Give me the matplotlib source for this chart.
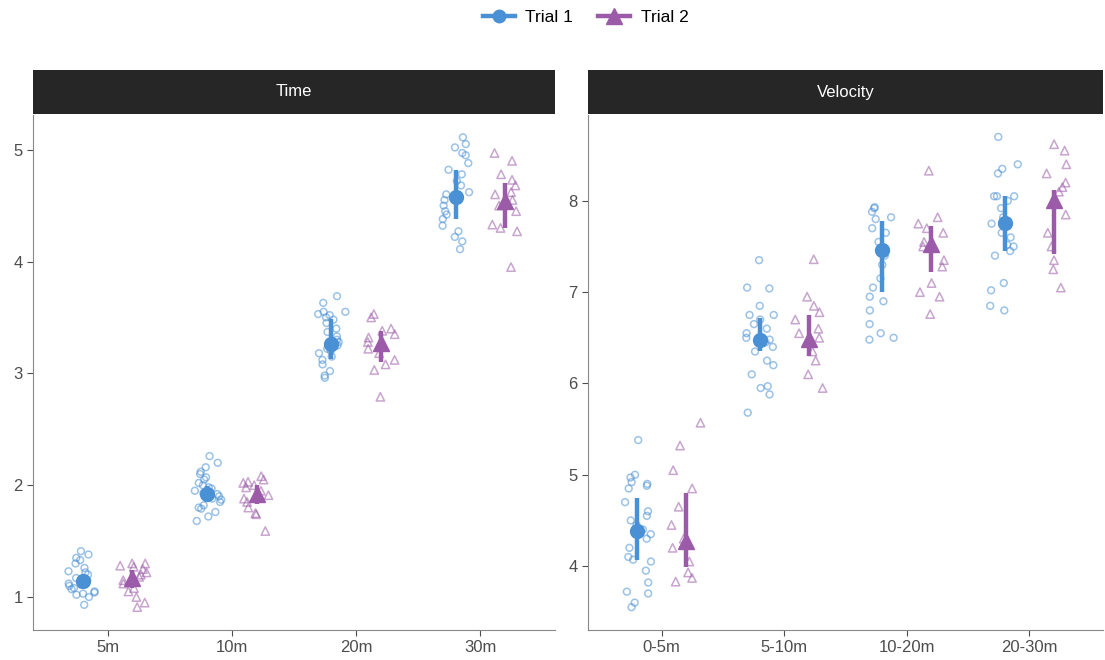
import numpy as np
import matplotlib
matplotlib.use("Agg")
from matplotlib import pyplot as plt
from matplotlib.lines import Line2D

plt.rcParams['font.family'] = ['Liberation Sans', 'DejaVu Sans']

# sprint split times (s) and velocities (m/s), two trials per athlete
time_labels = ['5m', '10m', '20m', '30m']
velocity_labels = ['0-5m', '5-10m', '10-20m', '20-30m']

time_trial1 = [
    [0.93, 1.00, 1.02, 1.03, 1.04, 1.05, 1.07, 1.08, 1.10, 1.11, 1.12, 1.14, 1.15,
     1.17, 1.20, 1.22, 1.23, 1.26, 1.30, 1.33, 1.35, 1.38, 1.41],
    [1.68, 1.72, 1.76, 1.79, 1.80, 1.82, 1.85, 1.87, 1.88, 1.90, 1.92, 1.93, 1.95,
     1.97, 1.98, 2.00, 2.02, 2.05, 2.07, 2.10, 2.12, 2.16, 2.20, 2.26],
    [2.96, 2.98, 3.02, 3.08, 3.12, 3.15, 3.18, 3.20, 3.22, 3.25, 3.28, 3.30, 3.33,
     3.37, 3.40, 3.45, 3.48, 3.50, 3.52, 3.53, 3.55, 3.55, 3.63, 3.69],
    [4.11, 4.18, 4.22, 4.27, 4.32, 4.38, 4.42, 4.45, 4.50, 4.55, 4.58, 4.60, 4.62,
     4.68, 4.72, 4.78, 4.82, 4.88, 4.95, 4.97, 5.02, 5.05, 5.11],
]
time_trial2 = [
    [0.91, 0.95, 1.00, 1.05, 1.08, 1.12, 1.15, 1.18, 1.20, 1.22, 1.25, 1.27, 1.28, 1.30, 1.30],
    [1.59, 1.74, 1.75, 1.80, 1.85, 1.88, 1.91, 1.95, 1.98, 2.00, 2.02, 2.03, 2.05, 2.08],
    [2.79, 3.03, 3.08, 3.12, 3.18, 3.22, 3.28, 3.32, 3.35, 3.38, 3.40, 3.50, 3.53],
    [3.95, 4.27, 4.30, 4.33, 4.45, 4.50, 4.55, 4.60, 4.62, 4.68, 4.73, 4.78, 4.90, 4.97],
]
velocity_trial1 = [
    [3.55, 3.60, 3.70, 3.72, 3.82, 3.95, 4.05, 4.07, 4.10, 4.20, 4.30, 4.35, 4.40,
     4.45, 4.50, 4.55, 4.60, 4.70, 4.85, 4.88, 4.90, 4.92, 4.97, 5.00, 5.38],
    [5.68, 5.88, 5.95, 5.97, 6.10, 6.20, 6.25, 6.35, 6.40, 6.45, 6.48, 6.50, 6.55,
     6.60, 6.65, 6.70, 6.75, 6.75, 6.85, 7.04, 7.05, 7.35],
    [6.48, 6.50, 6.55, 6.65, 6.80, 6.90, 6.95, 7.05, 7.15, 7.30, 7.40, 7.46, 7.55,
     7.65, 7.70, 7.80, 7.82, 7.88, 7.92, 7.93],
    [6.80, 6.85, 7.02, 7.10, 7.40, 7.45, 7.50, 7.52, 7.60, 7.65, 7.75, 7.82, 7.92,
     8.00, 8.05, 8.05, 8.05, 8.30, 8.35, 8.40, 8.70],
]
velocity_trial2 = [
    [3.83, 3.87, 3.93, 4.05, 4.20, 4.30, 4.45, 4.65, 4.85, 5.05, 5.32, 5.57],
    [5.95, 6.10, 6.25, 6.35, 6.45, 6.50, 6.55, 6.60, 6.70, 6.78, 6.85, 6.95, 7.36],
    [6.76, 6.95, 7.00, 7.10, 7.28, 7.35, 7.50, 7.55, 7.65, 7.70, 7.75, 7.82, 8.33],
    [7.05, 7.25, 7.35, 7.50, 7.65, 7.85, 8.10, 8.15, 8.20, 8.30, 8.40, 8.55, 8.62],
]

# summary: mean with lower / upper interval
time_mean1 = [1.14, 1.92, 3.26, 4.58]
time_lo1 = [1.08, 1.85, 3.13, 4.38]
time_hi1 = [1.20, 1.99, 3.49, 4.82]
time_mean2 = [1.17, 1.92, 3.27, 4.54]
time_lo2 = [1.08, 1.83, 3.10, 4.30]
time_hi2 = [1.24, 2.00, 3.38, 4.70]
vel_mean1 = [4.38, 6.48, 7.46, 7.76]
vel_lo1 = [4.07, 6.35, 7.00, 7.45]
vel_hi1 = [4.75, 6.72, 7.78, 8.05]
vel_mean2 = [4.28, 6.49, 7.53, 8.01]
vel_lo2 = [3.99, 6.30, 7.22, 7.42]
vel_hi2 = [4.80, 6.75, 7.72, 8.12]

blue = '#4a90d4'
purple = '#9c5ba8'
rng = np.random.RandomState(3)

fig = plt.figure(figsize=(11.05, 6.6), dpi=100)

panels = [
    ('Time', time_labels, time_trial1, time_trial2,
     (time_mean1, time_lo1, time_hi1), (time_mean2, time_lo2, time_hi2),
     (0.705, 5.31), [1, 2, 3, 4, 5], 33, 555),
    ('Velocity', velocity_labels, velocity_trial1, velocity_trial2,
     (vel_mean1, vel_lo1, vel_hi1), (vel_mean2, vel_lo2, vel_hi2),
     (3.30, 8.94), [4, 5, 6, 7, 8], 588, 1103),
]

W, H = 1105, 660
for title, labels, t1, t2, s1, s2, ylim, yticks, x0, x1 in panels:
    ax = fig.add_axes([x0 / W, 1 - 630 / H, (x1 - x0) / W, (630 - 115) / H])
    strip = fig.add_axes([x0 / W, 1 - 114 / H, (x1 - x0) / W, 44 / H])
    strip.set_facecolor('#262626')
    strip.set_xticks([])
    strip.set_yticks([])
    for s in strip.spines.values():
        s.set_visible(False)
    strip.text(0.5, 0.5, title, color='white', fontsize=12,
               ha='center', va='center', transform=strip.transAxes)

    for pts, summ, off, color, mk, msize, ms_big in [
        (t1, s1, -0.2, blue, 'o', 24, 10),
        (t2, s2, 0.2, purple, '^', 36, 12),
    ]:
        for i, vals in enumerate(pts):
            xs = i + off + rng.uniform(-0.12, 0.12, len(vals))
            ax.scatter(xs, vals, s=msize, marker=mk, facecolors='none',
                       edgecolors=color, linewidths=1.1, alpha=0.55, zorder=2)
        mean, lo, hi = summ
        xc = np.arange(len(mean)) + off
        ax.vlines(xc, lo, hi, color=color, linewidth=3.2, zorder=3)
        ax.plot(xc, mean, linestyle='none', marker=mk, markersize=ms_big,
                color=color, zorder=4)

    ax.set_xlim(-0.6, 3.6)
    ax.set_ylim(*ylim)
    ax.set_xticks(range(len(labels)))
    ax.set_xticklabels(labels)
    ax.set_yticks(yticks)
    ax.tick_params(colors='#4d4d4d', labelsize=12, length=4, width=0.8)
    for t in ax.get_xticklabels() + ax.get_yticklabels():
        t.set_color('#4d4d4d')
    for side in ['top', 'right']:
        ax.spines[side].set_visible(False)
    for side in ['left', 'bottom']:
        ax.spines[side].set_color('#888888')
        ax.spines[side].set_linewidth(0.8)

handles = [
    Line2D([0], [0], color=blue, marker='o', markersize=9, linewidth=3.2),
    Line2D([0], [0], color=purple, marker='^', markersize=11, linewidth=3.2),
]
fig.legend(handles, ['Trial 1', 'Trial 2'], loc='center', ncol=2,
           bbox_to_anchor=(0.53, 1 - 17 / H), frameon=False, fontsize=12.5,
           handlelength=1.85, columnspacing=1.45, handletextpad=0.6)

fig.savefig('out.png', dpi=100)
